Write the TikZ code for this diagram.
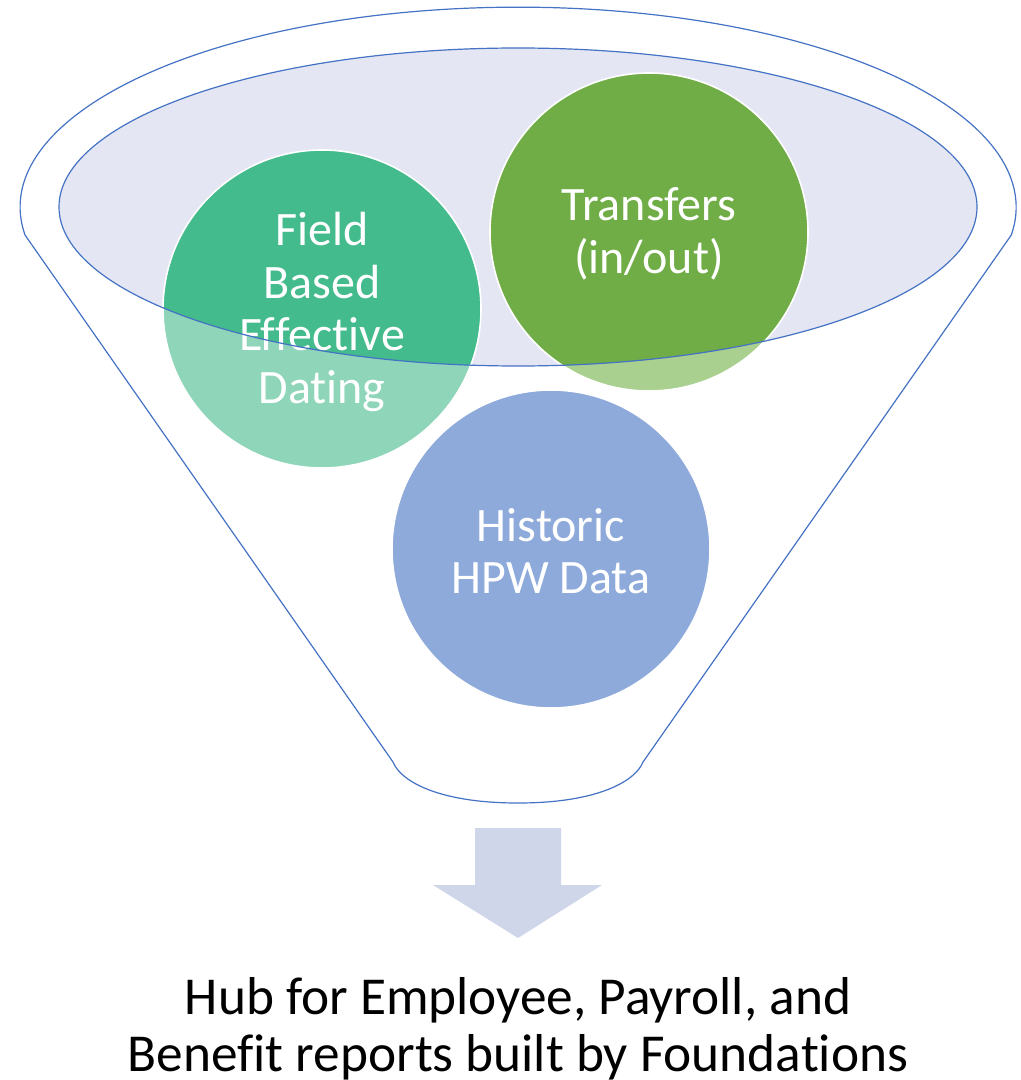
\documentclass[tikz,border=0pt]{standalone}
\usepackage{fontspec}
\setmainfont[Ligatures=NoCommon]{Carlito}
\definecolor{funnelblue}{HTML}{4472C4}
\definecolor{rimfill}{HTML}{E4E7F3}
\definecolor{fielddark}{HTML}{44BB8C}
\definecolor{fieldlight}{HTML}{8FD5BA}
\definecolor{transdark}{HTML}{70AD47}
\definecolor{translight}{HTML}{A9D08E}
\definecolor{histc}{HTML}{8EAADB}
\definecolor{arrowc}{HTML}{CFD6EA}
\begin{document}
\begin{tikzpicture}[x=0.75pt,y=-0.75pt,
  funnelline/.style={draw=funnelblue,line width=0.9pt},
  circtxt/.style={text=white,align=center,font=\fontsize{36}{39.5}\selectfont},
  captxt/.style={text=black,align=center,font=\fontsize{40}{42.75}\selectfont},
  ring/.style={draw=white,line width=1.2pt}]
\useasboundingbox (0,0) rectangle (1020,1080);
% funnel body
\draw[funnelline] (25,235) arc[start angle=172,end angle=368,x radius=498,y radius=200]
  -- (643,762) .. controls (636,780) and (600,803) .. (518,803)
  .. controls (436,803) and (400,780) .. (393,762) -- cycle;
% inner rim fill
\fill[rimfill] (518,207) ellipse[x radius=459,y radius=159];
% circles, light parts
\fill[fieldlight] (322,309) circle (159);
\fill[translight] (649,232) circle (159);
% dark parts inside the rim
\begin{scope}
  \clip (518,207) ellipse[x radius=459,y radius=159];
  \fill[fielddark] (322,309) circle (159);
  \fill[transdark] (649,232) circle (159);
\end{scope}
\draw[ring] (322,309) circle (159);
\draw[ring] (649,232) circle (159);
\fill[histc] (551,549) circle (159);
\draw[ring] (551,549) circle (159);
% labels
\node[circtxt] (field) at (322,312) {Field\\Based\\Effective\\Dating};
\node[circtxt] (trans) at (649,234) {Transfers\\(in/out)};
\node[circtxt] (hist) at (551,551) {Historic\\HPW Data};
% rim outline on top
\draw[funnelline] (518,207) ellipse[x radius=459,y radius=159];
% arrow
\fill[arrowc] (475,828) -- (561,828) -- (561,885) -- (602,885) -- (518,938)
  -- (433,885) -- (475,885) -- cycle;
\node[captxt] (hub) at (518,1029) {Hub for Employee, Payroll, and\\Benefit reports built by Foundations};
\end{tikzpicture}
\end{document}
